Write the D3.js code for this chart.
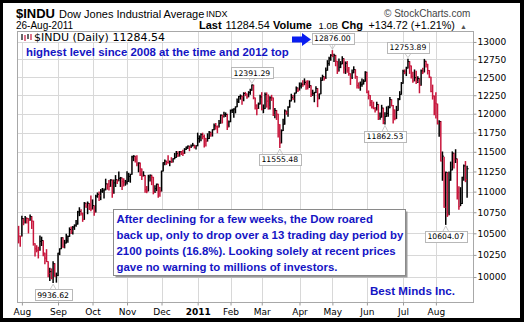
<!DOCTYPE html>
<html><head><meta charset="utf-8">
<script src="https://cdn.jsdelivr.net/npm/d3@7"></script>
<style>
html,body{margin:0;padding:0;background:#fff;}
svg{display:block;}
</style></head><body>
<svg id="chart" width="524" height="322"></svg>
<script>
// $INDU daily bars, 29 Jul 2010 – 26 Aug 2011
const priorClose = 10497.88;
const dates = [
  "2010-07-29","2010-07-30",
  "2010-08-02","2010-08-03","2010-08-04","2010-08-05","2010-08-06","2010-08-09","2010-08-10","2010-08-11","2010-08-12","2010-08-13","2010-08-16","2010-08-17","2010-08-18","2010-08-19","2010-08-20","2010-08-23","2010-08-24","2010-08-25","2010-08-26","2010-08-27","2010-08-30","2010-08-31",
  "2010-09-01","2010-09-02","2010-09-03","2010-09-07","2010-09-08","2010-09-09","2010-09-10","2010-09-13","2010-09-14","2010-09-15","2010-09-16","2010-09-17","2010-09-20","2010-09-21","2010-09-22","2010-09-23","2010-09-24","2010-09-27","2010-09-28","2010-09-29","2010-09-30",
  "2010-10-01","2010-10-04","2010-10-05","2010-10-06","2010-10-07","2010-10-08","2010-10-11","2010-10-12","2010-10-13","2010-10-14","2010-10-15","2010-10-18","2010-10-19","2010-10-20","2010-10-21","2010-10-22","2010-10-25","2010-10-26","2010-10-27","2010-10-28","2010-10-29",
  "2010-11-01","2010-11-02","2010-11-03","2010-11-04","2010-11-05","2010-11-08","2010-11-09","2010-11-10","2010-11-11","2010-11-12","2010-11-15","2010-11-16","2010-11-17","2010-11-18","2010-11-19","2010-11-22","2010-11-23","2010-11-24","2010-11-26","2010-11-29","2010-11-30",
  "2010-12-01","2010-12-02","2010-12-03","2010-12-06","2010-12-07","2010-12-08","2010-12-09","2010-12-10","2010-12-13","2010-12-14","2010-12-15","2010-12-16","2010-12-17","2010-12-20","2010-12-21","2010-12-22","2010-12-23","2010-12-27","2010-12-28","2010-12-29","2010-12-30","2010-12-31",
  "2011-01-03","2011-01-04","2011-01-05","2011-01-06","2011-01-07","2011-01-10","2011-01-11","2011-01-12","2011-01-13","2011-01-14","2011-01-18","2011-01-19","2011-01-20","2011-01-21","2011-01-24","2011-01-25","2011-01-26","2011-01-27","2011-01-28","2011-01-31",
  "2011-02-01","2011-02-02","2011-02-03","2011-02-04","2011-02-07","2011-02-08","2011-02-09","2011-02-10","2011-02-11","2011-02-14","2011-02-15","2011-02-16","2011-02-17","2011-02-18","2011-02-22","2011-02-23","2011-02-24","2011-02-25","2011-02-28",
  "2011-03-01","2011-03-02","2011-03-03","2011-03-04","2011-03-07","2011-03-08","2011-03-09","2011-03-10","2011-03-11","2011-03-14","2011-03-15","2011-03-16","2011-03-17","2011-03-18","2011-03-21","2011-03-22","2011-03-23","2011-03-24","2011-03-25","2011-03-28","2011-03-29","2011-03-30","2011-03-31",
  "2011-04-01","2011-04-04","2011-04-05","2011-04-06","2011-04-07","2011-04-08","2011-04-11","2011-04-12","2011-04-13","2011-04-14","2011-04-15","2011-04-18","2011-04-19","2011-04-20","2011-04-21","2011-04-25","2011-04-26","2011-04-27","2011-04-28","2011-04-29",
  "2011-05-02","2011-05-03","2011-05-04","2011-05-05","2011-05-06","2011-05-09","2011-05-10","2011-05-11","2011-05-12","2011-05-13","2011-05-16","2011-05-17","2011-05-18","2011-05-19","2011-05-20","2011-05-23","2011-05-24","2011-05-25","2011-05-26","2011-05-27","2011-05-31",
  "2011-06-01","2011-06-02","2011-06-03","2011-06-06","2011-06-07","2011-06-08","2011-06-09","2011-06-10","2011-06-13","2011-06-14","2011-06-15","2011-06-16","2011-06-17","2011-06-20","2011-06-21","2011-06-22","2011-06-23","2011-06-24","2011-06-27","2011-06-28","2011-06-29","2011-06-30",
  "2011-07-01","2011-07-05","2011-07-06","2011-07-07","2011-07-08","2011-07-11","2011-07-12","2011-07-13","2011-07-14","2011-07-15","2011-07-18","2011-07-19","2011-07-20","2011-07-21","2011-07-22","2011-07-25","2011-07-26","2011-07-27","2011-07-28","2011-07-29",
  "2011-08-01","2011-08-02","2011-08-03","2011-08-04","2011-08-05","2011-08-08","2011-08-09","2011-08-10","2011-08-11","2011-08-12","2011-08-15","2011-08-16","2011-08-17","2011-08-18","2011-08-19","2011-08-22","2011-08-23","2011-08-24","2011-08-25","2011-08-26"
];
const closes = [
  10467.16,10465.94,
  10674.38,10636.38,10680.43,10674.98,10653.56,10698.75,10644.25,10378.83,10319.95,10303.15,10302.01,10405.85,10415.54,10271.21,10213.62,10174.41,10040.45,10060.06,9985.81,10150.65,10009.73,10014.72,
  10269.47,10320.10,10447.93,10340.69,10387.01,10415.24,10462.77,10544.13,10526.49,10572.73,10594.83,10607.85,10753.62,10761.03,10739.31,10662.42,10860.26,10812.04,10858.14,10835.28,10788.05,
  10829.68,10751.27,10944.72,10967.65,10948.58,11006.48,11010.34,11020.40,11096.08,11094.57,11062.78,11143.69,10978.62,11107.97,11146.57,11132.56,11164.05,11169.46,11126.28,11113.95,11118.49,
  11124.62,11188.72,11215.13,11434.84,11444.08,11406.84,11346.75,11357.04,11283.10,11192.58,11201.97,11023.50,11007.88,11181.23,11203.55,11178.58,10988.26,11036.37,11092.00,11052.49,11006.02,
  11255.78,11362.41,11382.09,11362.19,11359.16,11372.48,11370.06,11410.32,11428.56,11476.54,11457.47,11499.25,11491.91,11478.13,11533.16,11559.49,11573.49,11555.03,11575.54,11585.38,11569.71,11577.51,
  11670.75,11691.18,11722.89,11697.31,11674.76,11637.45,11671.88,11755.44,11731.90,11787.38,11837.93,11825.29,11822.80,11871.84,11980.52,11977.19,11985.44,11989.83,11823.70,11891.93,
  12040.16,12041.97,12062.26,12092.15,12161.63,12233.15,12239.89,12229.29,12273.26,12268.19,12226.64,12288.17,12318.14,12391.25,12212.79,12105.78,12068.50,12130.45,12226.34,
  12058.02,12066.80,12258.20,12169.88,12090.03,12214.38,12213.09,11984.61,12044.40,11993.16,11855.42,11613.30,11774.59,11858.52,12036.53,12018.63,12086.02,12170.56,12220.59,12197.88,12279.01,12350.61,12319.73,
  12376.72,12400.03,12393.90,12426.75,12409.49,12380.05,12381.11,12263.58,12270.99,12285.15,12341.83,12201.59,12266.75,12453.54,12505.99,12479.88,12595.37,12690.96,12763.31,12810.54,
  12807.36,12807.51,12723.58,12584.17,12638.74,12684.68,12760.36,12630.03,12695.92,12595.75,12548.37,12479.58,12560.18,12605.32,12512.04,12381.26,12356.21,12394.66,12402.76,12441.58,12569.79,
  12290.14,12248.55,12151.26,12089.96,12070.81,12048.94,12124.36,11951.91,11952.97,12076.11,11897.27,11961.52,12004.36,12080.38,12190.01,12109.67,12050.00,11934.58,12043.56,12188.69,12261.42,12414.34,
  12582.77,12569.87,12626.02,12719.49,12657.20,12505.76,12446.88,12491.61,12437.12,12479.73,12385.16,12587.42,12571.91,12724.41,12681.16,12592.80,12501.30,12302.55,12240.11,12143.24,
  12132.49,11866.62,11896.44,11383.68,11444.61,10809.85,11239.77,10719.94,11143.31,11269.02,11482.90,11405.93,11410.21,10990.58,10817.65,10854.65,11176.76,11320.71,11149.82,11284.54
];
const highs = [
  10583,10468,
  10704,10675,10700,10681,10675,10719,10699,10644,10379,10357,10339,10469,10456,10415,10271,10311,10174,10100,10092,10172,10151,10045,
  10270,10321,10450,10448,10419,10490,10470,10565,10574,10580,10600,10653,10762,10805,10780,10739,10868,10860,10875,10858,10948,
  10900,10830,10956,10985,10997,11027,11040,11034,11155,11096,11140,11149,11144,11144,11200,11147,11246,11177,11170,11160,11140,
  11248,11227,11216,11445,11452,11444,11452,11361,11357,11283,11248,11202,11064,11204,11206,11204,11178,11073,11094,11092,11052,
  11256,11363,11397,11382,11452,11383,11426,11413,11480,11505,11503,11505,11506,11520,11542,11562,11575,11573,11590,11610,11586,11580,
  11743,11708,11736,11743,11720,11675,11735,11766,11755,11788,11863,11870,11838,11912,11984,11981,12020,12012,11995,11904,
  12050,12060,12067,12092,12201,12234,12255,12240,12285,12290,12268,12300,12333,12391.29,12389,12213,12123,12145,12250,
  12286,12119,12280,12283,12255,12230,12250,12213,12070,12044,11993,11855,11786,11926,12052,12037,12094,12182,12265,12248,12280,12363,12351,
  12420,12419,12450,12477,12449,12451,12446,12381,12320,12291,12367,12342,12267,12492,12528,12506,12630,12733,12780,12819,
  12876.00,12826,12808,12724,12757,12720,12790,12760,12715,12721,12636,12548,12601,12646,12605,12511,12421,12433,12474,12464,12576,
  12570,12310,12249,12180,12156,12084,12156,12124,12009,12114,12076,12013,12092,12103,12219,12190,12110,12051,12100,12208,12300,12426,
  12599,12602,12640,12753.89,12719,12657,12569,12602,12583,12507,12480,12601,12625,12751,12725,12681,12593,12501,12390,12240,
  12285,12130,11906,11897,11499,11433,11244,11239,11244,11370,11500,11483,11528,11410,11060,11050,11179,11334,11377,11317
];
const lows = [
  10387,10347,
  10466,10600,10620,10620,10503,10653,10556,10361,10236,10284,10214,10302,10357,10240,10147,10172,10001,9961,9979,9936.62,10007,9941.84,
  10016,10252,10320,10338,10330,10387,10394,10463,10498,10492,10545,10583,10607,10708,10715,10640,10663,10810,10731,10783,10768,
  10788,10712,10751,10930,10889,10901,10990,10920,11021,11029,11020,11062,10929,10979,11062,11098,11133,11063,11025,11068,11078,
  11094,11125,11115,11215,11386,11369,11321,11245,11200,11150,11193,10990,10986,11008,11129,11085,10972,10988,11010,10929,10943,
  11006,11255,11333,11338,11356,11322,11364,11370,11410,11428,11438,11444,11465,11450,11478,11528,11540,11513,11555,11575,11548,11535,
  11577,11623,11640,11667,11562,11573,11637,11672,11700,11703,11784,11793,11746,11823,11872,11875,11954,11962,11789,11824,
  11892,12015,11952,12010,12093,12150,12195,12125,12173,12243,12207,12227,12263,12318,12200,12060,11983,12068,12130,
  12050,12012,12067,12087,12060,12060,12178,11974,11946,11922,11692,11555.48,11614,11775,11859,11991,11963,12086,12171,12193,12155,12279,12301,
  12320,12347,12373,12394,12332,12334,12355,12230,12246,12160,12285,12093,12201,12267,12454,12460,12480,12595,12665,12736,
  12787,12717,12658,12550,12585,12632,12685,12557,12550,12567,12524,12397,12479,12560,12482,12349,12345,12317,12373,12403,12442,
  12284,12198,12105,12076,12065,12022,12049,11921,11923,11953,11866,11862.53,11962,11964,12080,12103,11875,11918,11933,12044,12189,12262,
  12412,12546,12520,12627,12551,12487,12427,12447,12410,12425,12282,12385,12548,12571,12640,12543,12492,12295,12196,11985,
  11941,11862,11700,11383,11139,10809,10604.07,10699,10720,11139,11269,11294,11362,10910,10785,10830,10854,11141,11122,10929
];
const monthStarts = ["2010-08-02","2010-09-01","2010-10-01","2010-11-01","2010-12-01","2011-01-03","2011-02-01","2011-03-01","2011-04-01","2011-05-02","2011-06-01","2011-07-01","2011-08-01"];
const monthLabels = ["Aug","Sep","Oct","Nov","Dec","2011","Feb","Mar","Apr","May","Jun","Jul","Aug"];
const priceTicks = [10000,10250,10500,10750,11000,11250,11500,11750,12000,12250,12500,12750,13000];
const callouts = [
  {date:"2010-08-27", kind:"low"},
  {date:"2011-02-18", kind:"high"},
  {date:"2011-03-16", kind:"low"},
  {date:"2011-05-02", kind:"high"},
  {date:"2011-06-16", kind:"low"},
  {date:"2011-07-07", kind:"high"},
  {date:"2011-08-09", kind:"low"}
];
const noteLines = [
  "After declining for a few weeks, the Dow roared",
  "back up, only to drop over a 13 trading day period by",
  "2100 points (16.8%). Looking solely at recent prices",
  "gave no warning to millions of investors."
];
const headline = "highest level since 2008 at the time and 2012 top";
const credit = "Best Minds Inc.";

if (closes.length !== dates.length || highs.length !== dates.length || lows.length !== dates.length) {
  throw new Error("length mismatch " + [dates.length, closes.length, highs.length, lows.length]);
}

const W = 524, H = 322;
const RED = "#c8163c", BLUE = "#1414c4", ARROW = "#0a1ef0";
const SANS = "'Liberation Sans', Arial, sans-serif";
const VERD = "'DejaVu Sans', Verdana, sans-serif";
const plot = {left: 17.5, right: 473.5, top: 31.5, bottom: 302.5};

const svg = d3.select("#chart");

// black outer frame
svg.append("rect").attr("width", W).attr("height", H).attr("fill", "#000");
svg.append("rect").attr("x", 3).attr("y", 3).attr("width", W - 3 - 4).attr("height", H - 3 - 4).attr("fill", "#fff");

const x = d3.scaleLinear().domain([0, dates.length - 1]).range([18.6, 467.1]);
const y = d3.scaleLog().domain([9725, 13153]).range([302, 31.5]);
const idx = new Map(dates.map((d, i) => [d, i]));

// grid
const grid = svg.append("g").attr("stroke", "#d8d8d8").attr("stroke-width", 1);
grid.selectAll("line.h").data(priceTicks).join("line")
  .attr("x1", plot.left).attr("x2", plot.right)
  .attr("y1", d => Math.round(y(d)) + 0.5).attr("y2", d => Math.round(y(d)) + 0.5);
grid.selectAll("line.v").data(monthStarts).join("line")
  .attr("y1", plot.top).attr("y2", plot.bottom)
  .attr("x1", d => Math.round(x(idx.get(d))) + 0.5).attr("x2", d => Math.round(x(idx.get(d))) + 0.5);

// plot frame
svg.append("rect").attr("x", plot.left).attr("y", plot.top)
  .attr("width", plot.right - plot.left).attr("height", plot.bottom - plot.top)
  .attr("fill", "none").attr("stroke", "#a8a8a8");

// right price axis
const yAxis = d3.axisRight(y).tickValues(priceTicks).tickFormat(d3.format("d")).tickSize(3).tickPadding(1);
const ya = svg.append("g").attr("transform", `translate(${plot.right},0)`).call(yAxis);
ya.select(".domain").remove();
ya.selectAll("line").attr("stroke", "#999");
ya.selectAll("text").attr("font-family", VERD).attr("font-size", 9).attr("fill", "#000");

// bottom month axis
const xAxis = d3.axisBottom(x).tickValues(monthStarts.map(d => idx.get(d)))
  .tickFormat((d, i) => monthLabels[i]).tickSize(3).tickPadding(3.5);
const xa = svg.append("g").attr("transform", `translate(0,${plot.bottom})`).call(xAxis);
xa.select(".domain").remove();
xa.selectAll("line").attr("stroke", "#999");
xa.selectAll("text").attr("font-family", VERD).attr("font-size", 9).attr("fill", "#000")
  .attr("font-weight", (d, i) => monthLabels[i] === "2011" ? "bold" : "normal");

// price bars (high-low with close tick), black on up days, red on down days
const bars = dates.map((d, i) => ({
  i, h: highs[i], l: lows[i], c: closes[i],
  up: closes[i] >= (i ? closes[i - 1] : priorClose)
}));
const bg = svg.append("g");
bg.selectAll("line.hl").data(bars).join("line")
  .attr("x1", d => x(d.i)).attr("x2", d => x(d.i))
  .attr("y1", d => y(d.h) - 0.4).attr("y2", d => y(d.l) + 0.4)
  .attr("stroke", d => d.up ? "#000" : RED).attr("stroke-width", 1.5);
bg.selectAll("line.c").data(bars).join("line")
  .attr("x1", d => x(d.i)).attr("x2", d => x(d.i) + 1.5)
  .attr("y1", d => y(d.c)).attr("y2", d => y(d.c))
  .attr("stroke", d => d.up ? "#000" : RED).attr("stroke-width", 1);

// legend row
svg.append("rect").attr("x", plot.left + 0.5).attr("y", plot.top + 0.5).attr("width", 152).attr("height", 10).attr("fill", "#fff");
const icon = svg.append("g").attr("stroke-width", 1.2);
[[22, 34, 40, "#000"], [25, 35, 41, RED], [28, 34, 39, "#000"], [31, 34, 40, RED]].forEach(([ix, a, b, col]) => {
  icon.append("line").attr("x1", ix).attr("x2", ix).attr("y1", a).attr("y2", b).attr("stroke", col);
});
svg.append("text").attr("x", 34).attr("y", 41).attr("font-family", VERD).attr("font-size", 11)
  .attr("fill", "#000").text("$INDU (Daily) 11284.54");

// headline and arrow
svg.append("text").attr("x", 26).attr("y", 55.5).attr("font-family", SANS).attr("font-size", 11.4)
  .attr("font-weight", "bold").attr("fill", BLUE).text(headline);
svg.append("path").attr("fill", ARROW)
  .attr("d", "M292,36.5 L302,36.5 L302,33 L311,39.5 L302,46 L302,42.5 L292,42.5 Z");

// callout labels at swing highs and lows
const fmt = d3.format(".2f");
callouts.forEach(co => {
  const i = idx.get(co.date);
  const v = co.kind === "high" ? highs[i] : lows[i];
  const cx = x(i), py = y(v);
  const g = svg.append("g");
  const t = g.append("text").attr("font-family", VERD).attr("font-size", 7.7).attr("fill", "#000")
    .attr("text-anchor", "middle").text(fmt(v));
  const w = t.node().getComputedTextLength() + 5, h = 11;
  const by = co.kind === "high" ? py - 6.5 - h : py + 6.5;
  t.attr("x", cx).attr("y", by + 8.3);
  g.insert("rect", "text").attr("x", Math.round(cx - w / 2) + 0.5).attr("y", Math.round(by) + 0.5)
    .attr("width", Math.round(w)).attr("height", h).attr("fill", "#fff").attr("stroke", "#b8b8b8");
  const ey = co.kind === "high" ? Math.round(by) + h + 0.5 : Math.round(by) + 0.5;
  const tip = co.kind === "high" ? py - 1.5 : py + 1.5;
  g.append("path").attr("fill", "none").attr("stroke", "#bbb").attr("stroke-width", 0.8)
    .attr("d", `M${cx - 3},${ey} L${cx},${tip} L${cx + 3},${ey}`);
});

// note box
const nb = {x: 113.5, y: 209.5, w: 292, h: 66};
svg.append("rect").attr("x", nb.x + 2).attr("y", nb.y + 2).attr("width", nb.w).attr("height", nb.h).attr("fill", "#9a9a9a");
svg.append("rect").attr("x", nb.x).attr("y", nb.y).attr("width", nb.w).attr("height", nb.h)
  .attr("fill", "#fff").attr("stroke", "#8a8a8a");
svg.append("g").selectAll("text").data(noteLines).join("text")
  .attr("x", 116.5).attr("y", (d, i) => 222.5 + i * 16)
  .attr("font-family", SANS).attr("font-size", 11.4).attr("font-weight", "bold").attr("fill", BLUE)
  .text(d => d);

svg.append("text").attr("x", 370).attr("y", 294.5).attr("font-family", SANS).attr("font-size", 11.6)
  .attr("font-weight", "bold").attr("fill", BLUE).text(credit);

// header
const hdr = svg.append("g").attr("font-family", SANS).attr("fill", "#000");
hdr.append("text").attr("x", 16).attr("y", 17.5).attr("font-size", 13).attr("font-weight", "bold").text("$INDU");
hdr.append("text").attr("x", 59).attr("y", 17.5).attr("font-size", 11).text("Dow Jones Industrial Average");
hdr.append("text").attr("x", 206).attr("y", 17).attr("font-size", 9).text("INDX");
hdr.append("text").attr("x", 384).attr("y", 17).attr("font-size", 10).attr("fill", "#444").text("\u00A9 StockCharts.com");
hdr.append("text").attr("x", 16).attr("y", 28.5).attr("font-size", 10).text("26-Aug-2011");
const quote = [
  {t: "Last", x: 199, s: 11, b: true},
  {t: "11284.54", x: 225.5, s: 10.8},
  {t: "Volume", x: 273, s: 11, b: true},
  {t: "1.0B", x: 318.5, s: 9.5},
  {t: "Chg", x: 341.5, s: 11, b: true},
  {t: "+134.72 (+1.21%)", x: 368.5, s: 10.8},
  {t: "\u25B2", x: 460, s: 7, c: "#555"}
];
hdr.selectAll("text.q").data(quote).join("text")
  .attr("x", d => d.x).attr("y", 29).attr("font-size", d => d.s)
  .attr("font-weight", d => d.b ? "bold" : "normal").attr("fill", d => d.c || "#000")
  .text(d => d.t);
</script>
</body></html>
